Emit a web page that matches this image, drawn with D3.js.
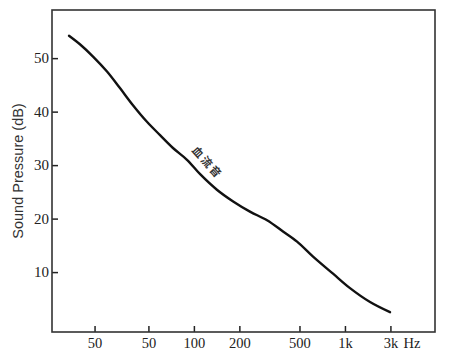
<!DOCTYPE html>
<html><head><meta charset="utf-8">
<script src="https://cdn.jsdelivr.net/npm/d3@7"></script>
<style>
html,body{margin:0;padding:0;background:#fff;}
svg{display:block;}
</style></head>
<body>
<script>
// Data
const freqs = [14.9, 17.6, 21.5, 26.6, 32.4, 39.5, 48.9, 59.7, 72.7, 90, 110, 142, 182, 235, 305, 389, 482, 615, 834, 1080, 1466, 1988];
const levels = [54.2, 52.6, 50.3, 47.5, 44.4, 41.2, 38.1, 35.6, 33.2, 31.0, 28.3, 25.4, 23.2, 21.3, 19.7, 17.6, 15.7, 12.9, 9.7, 7.0, 4.4, 2.5];
const xTickValues = [22, 50, 100, 200, 500, 1000, 2000];
const xTickLabels = ["50", "50", "100", "200", "500", "1k", "3k"];
const yTickValues = [10, 20, 30, 40, 50];
const curveLabel = "血流音";
const yTitle = "Sound Pressure (dB)";
const xUnit = "Hz";

const W = 464, H = 356;
const L = 52, R = 435, T = 10, B = 332;

const svg = d3.select("body").append("svg").attr("width", W).attr("height", H);

const x = d3.scaleLog().domain([11.5, 3946]).range([L, R]);
const y = d3.scaleLinear().domain([-1.2, 59]).range([B, T]);

const serif = "'Liberation Serif', 'DejaVu Serif', serif";

// x axis (ticks pointing inward)
const xAxis = d3.axisBottom(x).tickValues(xTickValues)
  .tickFormat((d, i) => xTickLabels[i]).tickSizeInner(-6).tickSizeOuter(0).tickPadding(6);
const gx = svg.append("g").attr("transform", `translate(0,${B})`).call(xAxis);
gx.attr("font-family", null).attr("font-size", null);
gx.select(".domain").remove();
gx.selectAll(".tick line").attr("stroke", "#222").attr("stroke-width", 1.5);
gx.selectAll(".tick text").style("font-family", serif).style("font-size", "14.5px").attr("fill", "#222");

// y axis (ticks pointing inward)
const yAxis = d3.axisLeft(y).tickValues(yTickValues).tickSizeInner(-6).tickSizeOuter(0).tickPadding(3);
const gy = svg.append("g").attr("transform", `translate(${L},0)`).call(yAxis);
gy.attr("font-family", null).attr("font-size", null);
gy.select(".domain").remove();
gy.selectAll(".tick line").attr("stroke", "#222").attr("stroke-width", 1.5);
gy.selectAll(".tick text").style("font-family", serif).style("font-size", "15px").attr("fill", "#222");

// frame
svg.append("rect").attr("x", L).attr("y", T).attr("width", R - L).attr("height", B - T)
  .attr("fill", "none").attr("stroke", "#333").attr("stroke-width", 1.6);

// unit label
svg.append("text").attr("x", x(2000) + 13).attr("y", B + 6).attr("dy", "0.71em")
  .style("font-family", serif).style("font-size", "14.5px").attr("fill", "#222").text(xUnit);

// y title
svg.append("text").attr("transform", `translate(23,${(97 + 245) / 2}) rotate(-90)`)
  .attr("text-anchor", "middle").style("font-family", "'Liberation Sans', Arial, sans-serif")
  .style("font-size", "14.5px").attr("fill", "#333").text(yTitle);

// curve
const line = d3.line().x((d, i) => x(freqs[i])).y((d, i) => y(levels[i])).curve(d3.curveCatmullRom.alpha(0.5));
svg.append("path").datum(levels).attr("d", line)
  .attr("fill", "none").attr("stroke", "#111").attr("stroke-width", 2.4).attr("stroke-linecap", "round");

// curve label
svg.append("text").attr("transform", `translate(${x(124)},${y(30.6)}) rotate(48)`)
  .attr("text-anchor", "middle").attr("dominant-baseline", "central")
  .style("font-family", "'Noto Sans CJK JP', 'Noto Sans CJK SC', sans-serif")
  .style("font-size", "11px").style("font-weight", "bold").style("letter-spacing", "2px")
  .attr("fill", "#333").text(curveLabel);
</script>
</body></html>
